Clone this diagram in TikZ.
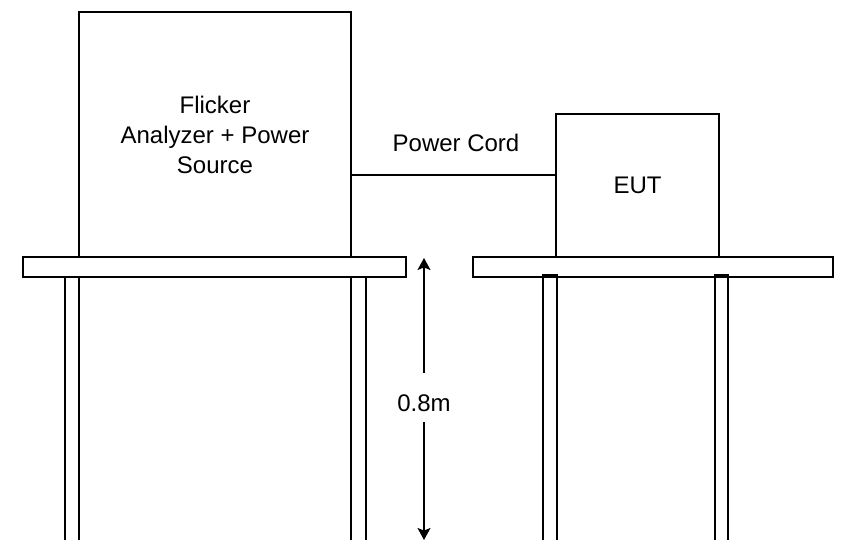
\documentclass[tikz,border=0pt]{standalone}
\usepackage{fontspec}
\setmainfont{Liberation Sans}
\usetikzlibrary{arrows.meta}
\begin{document}
\begin{tikzpicture}[x=1pt,y=-1pt, line width=1.3pt,
  box/.style={draw, rectangle, inner sep=0pt, outer sep=0pt, align=center, font=\fontsize{24}{30}\selectfont},
  part/.style={draw, rectangle, inner sep=0pt, outer sep=0pt},
  lbl/.style={font=\fontsize{24}{30}\selectfont, inner sep=0pt},
  tip/.style={-{Stealth[length=12pt,width=13pt,inset=2.5pt]}}]
\useasboundingbox (0,0) rectangle (853,540);
\clip (0,0) rectangle (853,540);
% legs
\node[part, minimum width=14pt, minimum height=290pt] (ll1) at (72,422) {};
\node[part, minimum width=15pt, minimum height=290pt] (ll2) at (358.5,422) {};
\node[part, minimum width=14pt, minimum height=290pt] (rl1) at (550,420) {};
\node[part, minimum width=13pt, minimum height=290pt] (rl2) at (721.5,420) {};
% tables
\node[part, minimum width=383pt, minimum height=20pt] (ltab) at (214.5,267) {};
\node[part, minimum width=360pt, minimum height=20pt] (rtab) at (653,267) {};
% boxes
\node[box, minimum width=272pt, minimum height=245pt] (fa) at (215,134.5) {Flicker\\[0pt]Analyzer + Power\\[0pt]Source};
\node[box, minimum width=163pt, minimum height=143pt] (eut) at (637.5,185.5) {EUT};
% power cord
\coordinate (c1) at (351,175);
\draw (c1) -- (c1 -| eut.west);
\node[lbl] (pc) at (456,143) {Power Cord};
% dimension
\coordinate (atop) at (424,258);
\coordinate (abot) at (424,540);
\coordinate (m1) at (424,373);
\coordinate (m2) at (424,422);
\node[lbl] (dim) at (424,403) {0.8m};
\draw[tip] (m1) -- (atop);
\draw[tip] (m2) -- (abot);
\end{tikzpicture}
\end{document}
